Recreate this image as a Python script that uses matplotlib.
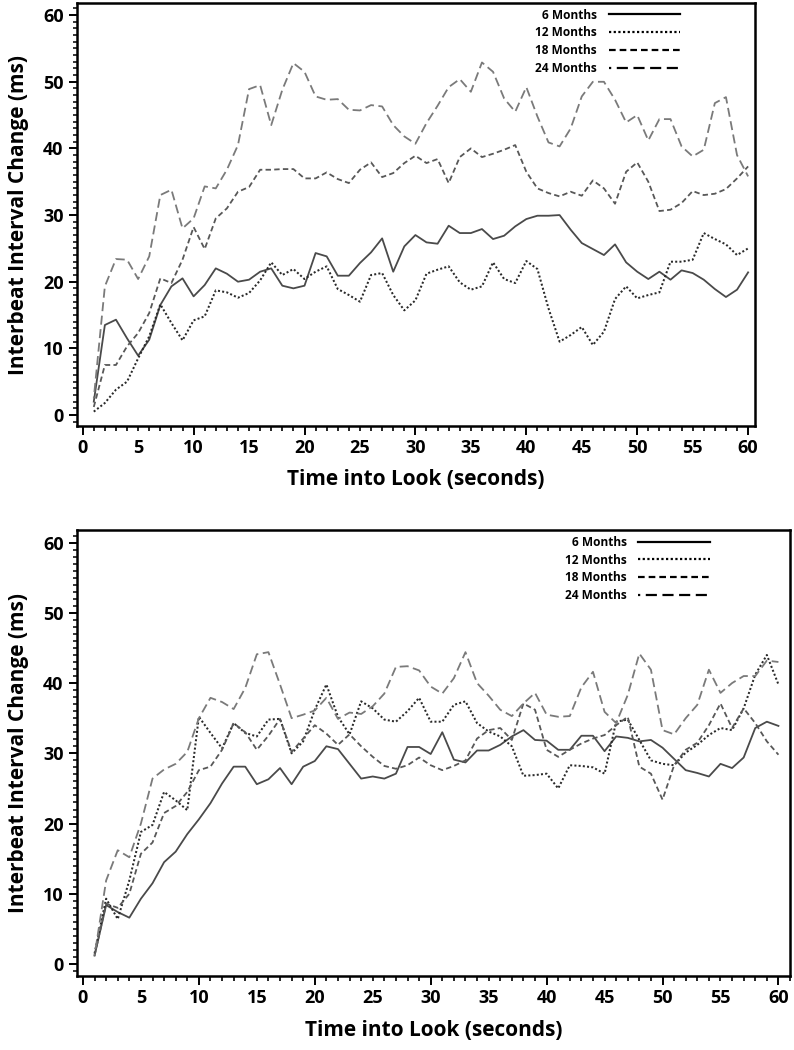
import numpy as np
import matplotlib
matplotlib.use('Agg')
import matplotlib.pyplot as plt
from matplotlib.ticker import MultipleLocator, FuncFormatter


plt.rcParams['font.family'] = ['Open Sans', 'DejaVu Sans']
plt.rcParams['font.weight'] = 'bold'

seconds = np.arange(1, 61)
labels = ['6 Months', '12 Months', '18 Months', '24 Months']

# top panel
top_6 = [2.0, 13.5, 14.3, 11.5, 8.9, 11.3, 16.5, 19.3, 20.5, 17.8,
         19.5, 22.0, 21.2, 20.0, 20.3, 21.5, 22.0, 19.4, 19.0, 19.4,
         24.3, 23.8, 20.9, 20.9, 22.8, 24.4, 26.5, 21.5, 25.3, 27.0,
         25.9, 25.7, 28.4, 27.3, 27.3, 27.9, 26.4, 26.9, 28.3, 29.4,
         29.9, 29.9, 30.0, 27.8, 25.8, 24.9, 24.0, 25.6, 22.9, 21.5,
         20.4, 21.5, 20.3, 21.7, 21.3, 20.3, 18.9, 17.7, 18.8, 21.4]
top_12 = [0.5, 1.8, 3.8, 5.0, 8.5, 11.8, 16.6, 13.8, 11.2, 14.2,
          14.8, 18.7, 18.4, 17.6, 18.3, 20.2, 22.9, 21.0, 21.9, 20.4,
          21.5, 22.3, 18.9, 18.0, 17.0, 21.0, 21.3, 18.0, 15.7, 17.2,
          21.2, 21.8, 22.3, 19.9, 18.8, 19.3, 22.9, 20.4, 19.8, 23.1,
          21.9, 16.0, 11.0, 12.0, 13.2, 10.5, 12.5, 17.4, 19.3, 17.5,
          18.0, 18.4, 23.0, 23.0, 23.3, 27.3, 26.4, 25.6, 24.0, 25.0]
top_18 = [1.2, 7.5, 7.5, 10.3, 12.3, 15.3, 20.5, 19.8, 23.3, 28.2,
          24.9, 29.5, 31.0, 33.5, 34.2, 36.8, 36.8, 36.9, 36.9, 35.5,
          35.5, 36.4, 35.4, 34.8, 36.8, 37.9, 35.7, 36.3, 37.8, 38.9,
          37.8, 38.4, 34.8, 38.7, 40.0, 38.7, 39.2, 39.8, 40.5, 36.5,
          34.0, 33.3, 32.8, 33.5, 32.9, 35.2, 34.0, 31.7, 36.5, 37.9,
          35.0, 30.6, 30.8, 31.8, 33.6, 33.0, 33.2, 33.9, 35.5, 37.3]
top_24 = [2.5, 19.3, 23.4, 23.3, 20.4, 23.8, 33.0, 33.8, 28.0, 29.5,
          34.3, 34.0, 36.8, 40.5, 48.9, 49.5, 43.5, 48.8, 52.8, 51.5,
          47.8, 47.3, 47.4, 45.8, 45.7, 46.5, 46.3, 43.5, 41.8, 40.7,
          43.8, 46.4, 49.2, 50.4, 48.5, 52.9, 51.5, 47.5, 45.5, 49.2,
          44.8, 40.9, 40.3, 43.0, 47.8, 50.0, 50.0, 47.3, 43.9, 45.0,
          41.2, 44.4, 44.4, 40.3, 38.8, 39.8, 46.8, 47.7, 39.0, 35.8]

# bottom panel
bot_6 = [1.2, 8.4, 7.4, 6.6, 9.3, 11.5, 14.5, 16.0, 18.5, 20.6,
         22.9, 25.7, 28.1, 28.1, 25.6, 26.3, 27.9, 25.6, 28.1, 28.9,
         31.0, 30.6, 28.5, 26.4, 26.7, 26.4, 27.1, 30.9, 30.9, 29.9,
         33.0, 29.1, 28.7, 30.4, 30.4, 31.2, 32.4, 33.3, 31.9, 31.8,
         30.5, 30.5, 32.5, 32.5, 30.3, 32.4, 32.2, 31.7, 31.9, 30.8,
         29.2, 27.6, 27.2, 26.7, 28.5, 27.9, 29.4, 33.6, 34.5, 33.9]
bot_12 = [1.5, 9.3, 6.4, 11.9, 18.8, 19.8, 24.5, 23.3, 21.9, 35.2,
          32.9, 30.7, 34.3, 32.9, 32.4, 34.8, 34.9, 30.0, 31.7, 36.2,
          39.8, 35.2, 32.7, 37.4, 36.4, 34.8, 34.5, 36.0, 37.9, 34.5,
          34.5, 36.9, 37.4, 34.3, 33.1, 32.4, 31.0, 26.8, 26.9, 27.1,
          25.0, 28.3, 28.2, 28.0, 27.1, 34.5, 34.8, 31.9, 29.0, 28.5,
          28.3, 30.1, 31.2, 32.6, 33.6, 33.3, 36.4, 41.2, 44.0, 39.8]
bot_18 = [1.2, 8.6, 8.0, 10.0, 15.7, 17.3, 21.5, 22.5, 24.5, 27.6,
          28.1, 30.5, 34.3, 33.0, 30.5, 32.5, 34.9, 30.2, 32.1, 34.0,
          32.8, 31.2, 32.7, 31.0, 29.5, 28.2, 27.8, 28.3, 29.4, 28.3,
          27.6, 28.2, 29.0, 32.1, 33.3, 33.6, 31.9, 37.1, 36.2, 30.5,
          29.5, 30.5, 31.4, 32.1, 32.6, 34.0, 35.2, 28.1, 27.1, 23.4,
          28.3, 30.5, 31.5, 34.0, 37.1, 33.6, 36.4, 34.3, 31.7, 29.8]
bot_24 = [1.2, 11.9, 16.2, 15.2, 20.0, 26.4, 27.7, 28.5, 30.2, 35.0,
          37.9, 37.3, 36.3, 39.3, 44.1, 44.4, 39.8, 35.0, 35.5, 36.1,
          37.9, 34.9, 35.8, 35.6, 36.7, 38.5, 42.3, 42.4, 41.8, 39.5,
          38.5, 40.7, 44.4, 40.0, 38.2, 36.2, 35.3, 37.1, 38.6, 35.5,
          35.2, 35.3, 39.4, 41.6, 35.9, 34.3, 38.3, 44.2, 41.9, 33.3,
          32.7, 35.0, 36.9, 41.9, 38.6, 40.0, 41.0, 41.0, 43.2, 43.0]

styles = [('-', '#4a4a4a', 1.3),
          ((0, (1, 1.1)), '#2a2a2a', 1.45),
          ((0, (3, 1.8)), '#585858', 1.3),
          ((4, (5, 2.5)), '#7a7a7a', 1.3)]


def draw_panel(ax, series, xmax, leg_x):
    for y, lab, (ls, col, lw) in zip(series, labels, styles):
        ax.plot(seconds, y, linestyle=ls, color=col, lw=lw, label=lab)

    ax.set_xlim(-0.54, xmax)
    ax.set_ylim(-1.7, 61.8)
    ax.xaxis.set_major_locator(MultipleLocator(10))
    ax.xaxis.set_minor_locator(MultipleLocator(1))
    ax.yaxis.set_major_locator(MultipleLocator(10))
    ax.yaxis.set_minor_locator(MultipleLocator(1))
    ax.xaxis.set_minor_formatter(
        FuncFormatter(lambda v, p: '%d' % round(v) if round(v) % 5 == 0 else ''))

    ax.tick_params(axis='x', which='major', length=6.5, width=1.4, pad=3, labelsize=13)
    ax.tick_params(axis='x', which='minor', length=3.5, width=1.2, pad=6, labelsize=13)
    ax.tick_params(axis='y', which='major', length=5.5, width=1.4, pad=4, labelsize=13)
    ax.tick_params(axis='y', which='minor', length=2.8, width=1.1)
    for sp in ax.spines.values():
        sp.set_linewidth(1.8)

    ax.set_xlabel('Time into Look (seconds)', fontsize=15, fontweight='bold')
    ax.set_ylabel('Interbeat Interval Change (ms)', fontsize=15, fontweight='bold')

    leg = ax.legend(loc='upper right', bbox_to_anchor=(leg_x, 0.987), frameon=False,
                    markerfirst=False, fontsize=8.6, handlelength=6.0,
                    handletextpad=1.0, labelspacing=0.4, borderpad=0, borderaxespad=0)
    for h in leg.get_lines():
        h.set_color('black')
        h.set_linewidth(1.6)


fig = plt.figure(figsize=(7.94, 10.5), dpi=100)
ax1 = fig.add_axes([0.0966, 0.594, 0.854, 0.403])
ax2 = fig.add_axes([0.0966, 0.0705, 0.8984, 0.4248])

draw_panel(ax1, [top_6, top_12, top_18, top_24], 60.6, 0.89)
draw_panel(ax2, [bot_6, bot_12, bot_18, bot_24], 61.0, 0.888)

ax1.yaxis.set_label_coords(-0.07, 0.5)
ax2.yaxis.set_label_coords(-0.067, 0.5)
ax1.xaxis.set_label_coords(0.5, -0.1)
ax2.xaxis.set_label_coords(0.5, -0.098)

fig.savefig('out.png', dpi=100)
